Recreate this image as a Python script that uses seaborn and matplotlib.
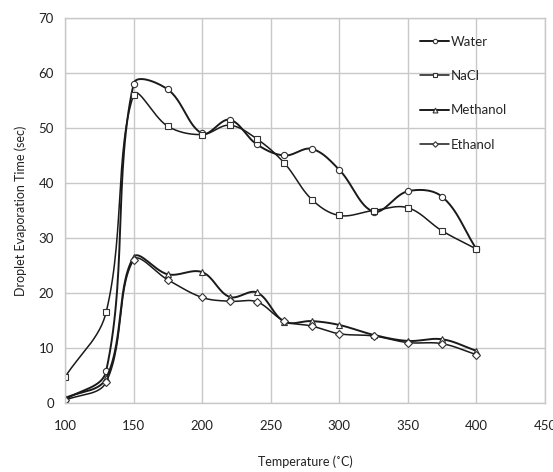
import numpy as np
import pandas as pd
import matplotlib
matplotlib.use('Agg')
import matplotlib.pyplot as plt
import seaborn as sns

# values
temps = [100, 130, 150, 175, 200, 220, 240, 260, 280, 300, 325, 350, 375, 400]
water = [0.6, 5.8, 58.0, 57.0, 49.0, 51.5, 47.0, 45.0, 46.2, 42.4, 34.8, 38.5, 37.5, 28.0]
nacl = [4.7, 16.5, 56.0, 50.3, 48.8, 50.5, 48.0, 43.6, 37.0, 34.1, 35.0, 35.5, 31.3, 28.0]
methanol = [0.9, 4.5, 26.5, 23.4, 23.8, 19.3, 20.1, 14.8, 14.9, 14.2, 12.4, 11.3, 11.6, 9.5]
ethanol = [0.5, 3.8, 26.0, 22.4, 19.2, 18.5, 18.4, 14.9, 14.0, 12.6, 12.2, 11.0, 10.8, 8.8]

series_names = ['Water', 'NaCl', 'Methanol', 'Ethanol']
series_values = [water, nacl, methanol, ethanol]
series_markers = ['o', 's', '^', 'D']
series_msize = [4.5, 5, 5, 4]
series_lw = [1.4, 1.1, 1.4, 1.1]

X_TICKS = [100, 150, 200, 250, 300, 350, 400, 450]
Y_TICKS = [0, 10, 20, 30, 40, 50, 60, 70]

# px per unit in the reference, used so the smoothing looks like excel's
SX, SY = 1.372, 5.5


def smooth_curve(x, y, n=30, tension=0.36):
    # bezier through the points, tangents weighted by segment length
    # (close to excel "smoothed line", less overshoot than plain catmull-rom)
    px = np.asarray(x, float) * SX
    py = np.asarray(y, float) * SY
    pts = np.column_stack([px, py])
    pts = np.vstack([pts[0], pts, pts[-1]])
    out = []
    t = np.linspace(0, 1, n)[:, None]
    for i in range(1, len(pts) - 2):
        p0, p1, p2, p3 = pts[i - 1], pts[i], pts[i + 1], pts[i + 2]
        l01 = np.hypot(*(p1 - p0))
        l12 = np.hypot(*(p2 - p1))
        l23 = np.hypot(*(p3 - p2))
        c1 = p1 + (p2 - p0) * tension * l12 / max(l01 + l12, 1e-9)
        c2 = p2 - (p3 - p1) * tension * l12 / max(l12 + l23, 1e-9)
        seg = ((1 - t) ** 3) * p1 + 3 * ((1 - t) ** 2) * t * c1 + 3 * (1 - t) * t ** 2 * c2 + t ** 3 * p2
        out.append(seg if i == 1 else seg[1:])
    out = np.vstack(out)
    return out[:, 0] / SX, out[:, 1] / SY


sns.set_style('whitegrid')
plt.rcParams['font.family'] = ['Lato', 'DejaVu Sans']

fig = plt.figure(figsize=(5.53, 4.72), dpi=100)
ax = fig.add_axes([0.1175, 0.146, 0.868, 0.816])

rows = []
for name, vals in zip(series_names, series_values):
    for t, v in zip(temps, vals):
        rows.append({'Temperature': t, 'Time': v, 'Liquid': name})
df = pd.DataFrame(rows)

for name, mk, ms, lw in zip(series_names, series_markers, series_msize, series_lw):
    sub = df[df['Liquid'] == name]
    sx, sy = smooth_curve(sub['Temperature'], sub['Time'])
    sns.lineplot(x=sx, y=sy, ax=ax, color='#1a1a1a', linewidth=lw, sort=False,
                 estimator=None, legend=False)
    ax.plot(sub['Temperature'], sub['Time'], linestyle='none', marker=mk,
            markersize=ms, markerfacecolor='white', markeredgecolor='#333333',
            markeredgewidth=0.8)

handles = [plt.Line2D([], [], color='#1a1a1a', lw=lw, marker=mk, markersize=ms * 0.7,
                      markerfacecolor='white', markeredgecolor='#333333', markeredgewidth=0.8)
           for mk, ms, lw in zip(series_markers, series_msize, series_lw)]
ax.legend(handles, series_names, loc='upper left', bbox_to_anchor=(0.715, 0.985),
          frameon=False, fontsize=9.5, handlelength=2.2, handletextpad=0.1,
          labelspacing=1.7)

ax.set_xlim(100, 450)
ax.set_ylim(0, 70)
ax.set_xticks(X_TICKS)
ax.set_yticks(Y_TICKS)
ax.grid(True, color='#c8c8c8', linewidth=1)
for s in ax.spines.values():
    s.set_color('#c8c8c8')
    s.set_linewidth(1)
ax.tick_params(length=0, labelsize=9.5, labelcolor='#222222', pad=12)
ax.tick_params(axis='y', pad=8)
ax.set_xlabel('Temperature (˚C)', fontsize=9, color='#222222', labelpad=17)
ax.set_ylabel('Droplet Evaporation Time (sec)', fontsize=9, color='#222222', labelpad=8)

fig.savefig('out.png', dpi=100)
